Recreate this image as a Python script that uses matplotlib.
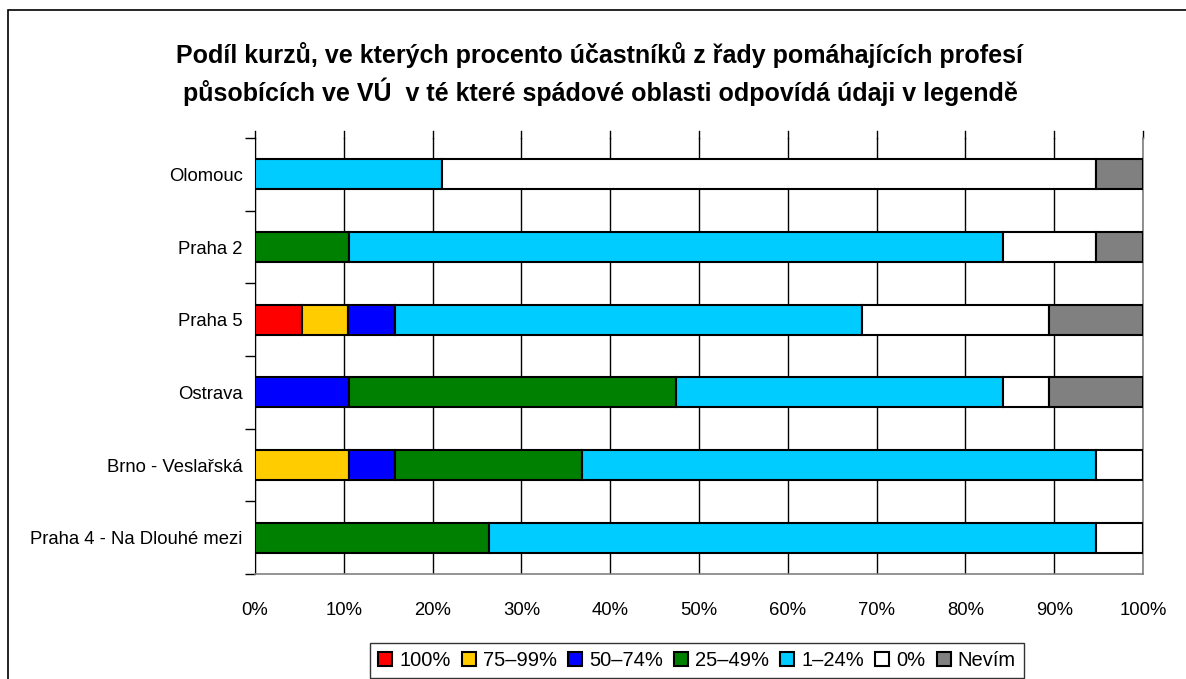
import matplotlib
matplotlib.use("Agg")
import matplotlib.pyplot as plt
from matplotlib.patches import Rectangle
from matplotlib.ticker import FixedLocator

plt.rcParams['font.family'] = ['Liberation Sans', 'DejaVu Sans']

categories = ["Praha 4 - Na Dlouhé mezi", "Brno - Veslařská", "Ostrava", "Praha 5", "Praha 2", "Olomouc"]
series_names = ["100%", "75–99%", "50–74%", "25–49%", "1–24%", "0%", "Nevím"]
s100 = [0, 0, 0, 5.26, 0, 0]
s75_99 = [0, 10.53, 0, 5.26, 0, 0]
s50_74 = [0, 5.26, 10.53, 5.26, 0, 0]
s25_49 = [26.32, 21.05, 36.84, 0, 10.53, 0]
s1_24 = [68.42, 57.89, 36.84, 52.63, 73.68, 21.05]
s0 = [5.26, 5.26, 5.26, 21.05, 10.53, 73.68]
nevim = [0, 0, 10.53, 10.53, 5.26, 5.26]
colors = ["#FF0000", "#FFCC00", "#0000FF", "#008000", "#00CCFF", "#FFFFFF", "#808080"]
x_ticks = [0, 10, 20, 30, 40, 50, 60, 70, 80, 90, 100]

fig = plt.figure(figsize=(11.86, 6.79), dpi=100)
ax = fig.add_axes([255/1186, 1 - 574/679, (1143-255)/1186, (574-138)/679])

series = [s100, s75_99, s50_74, s25_49, s1_24, s0, nevim]
ypos = list(range(len(categories)))
left = [0.0]*len(categories)
handles = []
for name, vals, col in zip(series_names, series, colors):
    b = ax.barh(ypos, vals, left=left, height=0.41, color=col, edgecolor='black', linewidth=1.5, label=name, zorder=3)
    handles.append(b)
    left = [l + v for l, v in zip(left, vals)]

ax.set_xlim(0, 100)
ax.set_ylim(-0.5, len(categories) - 0.5)
ax.xaxis.set_major_locator(FixedLocator(x_ticks))
ax.set_xticklabels([f"{t}%" for t in x_ticks], fontsize=13.3)
ax.tick_params(axis='x', length=0, pad=20)
ax.grid(axis='x', color='black', linewidth=1, zorder=0)
for t in x_ticks:
    ax.plot([t, t], [len(categories)-0.5, len(categories)-0.5 + 0.1], color='black', lw=1, clip_on=False, zorder=1)

ax.set_yticks(ypos)
ax.set_yticklabels(categories, fontsize=13.3)
ax.tick_params(axis='y', length=0, pad=9)
ax.set_yticks([i - 0.5 for i in range(len(categories)+1)], minor=True)
ax.tick_params(axis='y', which='minor', length=7, width=1, color='black', direction='out')

ax.spines['top'].set_visible(False)
ax.spines['left'].set_color('black')
ax.spines['bottom'].set_color('#808080')
ax.spines['right'].set_color('#808080')
ax.spines['bottom'].set_linewidth(1.2)
ax.spines['right'].set_linewidth(1.2)

fig.text(600/1186, 1 - 74/679,
         "Podíl kurzů, ve kterých procento účastníků z řady pomáhajících profesí\npůsobících ve VÚ  v té které spádové oblasti odpovídá údaji v legendě",
         ha='center', va='center', fontsize=18, fontweight='bold', linespacing=1.4)

leg = fig.legend(handles=handles, labels=series_names, loc='upper center', bbox_to_anchor=(697/1186, 1 - 643/679),
                 ncol=7, fontsize=14.5, frameon=True, fancybox=False, edgecolor='black',
                 handlelength=0.7, handleheight=0.7, handletextpad=0.35, columnspacing=0.55, borderpad=0.4,
                 borderaxespad=0)
leg.get_frame().set_linewidth(1)

fig.patches.append(Rectangle((8/1186, -0.1), 1.1, 1 - 10/679 + 0.1, transform=fig.transFigure,
                             fill=False, edgecolor='black', linewidth=1.2))

fig.savefig("out.png", dpi=100)
